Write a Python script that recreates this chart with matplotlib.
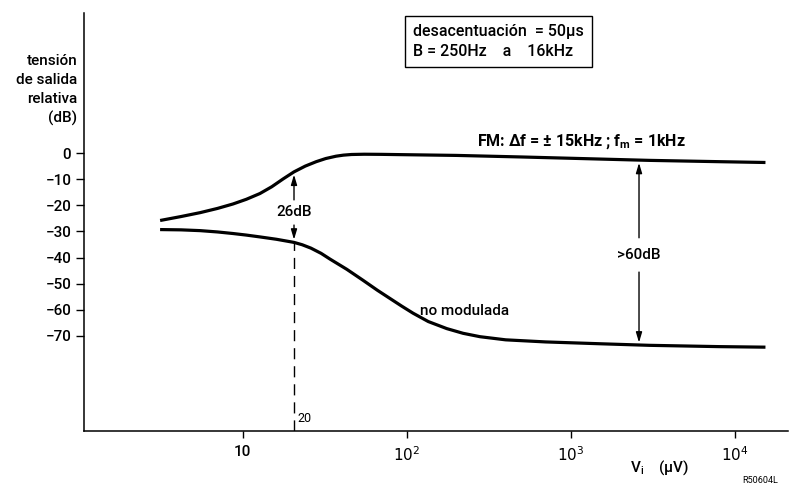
import numpy as np
import matplotlib
matplotlib.use("Agg")
import matplotlib.pyplot as plt

plt.rcParams["font.family"] = ["Roboto", "DejaVu Sans"]

# curve readings (input voltage in uV, relative output in dB)
fm_uv = [3.2, 4.2, 5.5, 7, 8.7, 10.5, 12.7, 15, 17.6, 20.5, 24, 28, 32, 37, 41, 46,
         55, 70, 90, 200, 500, 1000, 3000, 8000, 15000]
fm_db = [-25.7, -24.3, -22.8, -21.2, -19.5, -17.7, -15.5, -12.9, -9.9, -7.2, -5.0,
         -3.3, -2.1, -1.2, -0.8, -0.55, -0.45, -0.5, -0.6, -0.9, -1.5, -2.0, -2.8,
         -3.3, -3.6]

nomod_uv = [3.2, 4.2, 5.5, 7, 8.7, 10.5, 12.7, 16, 20.5, 23, 26, 30, 34, 43, 54, 66,
            79, 93, 109, 135, 175, 220, 279, 400, 700, 1500, 3000, 8000, 15000]
nomod_db = [-29.3, -29.4, -29.7, -30.2, -30.8, -31.4, -32.1, -33.0, -34.2, -35.1,
            -36.4, -38.4, -40.6, -44.5, -48.7, -52.5, -55.7, -58.6, -61.3, -64.5,
            -67.2, -69.0, -70.3, -71.5, -72.3, -73.0, -73.6, -74.1, -74.3]

y_ticks = [0, -10, -20, -30, -40, -50, -60, -70]
y_ticklabels = ["0", "−10", "−20", "−30", "−40", "−50", "−60", "−70"]
x_ticks = [10, 100, 1000, 10000]
x_ticklabels = ["10", "$10^2$", "$10^3$", "$10^4$"]

# annotation points
v_20 = 20.5
fm_at_20, nomod_at_20 = -7.2, -34.2
v_sep = 2600
fm_at_sep, nomod_at_sep = -2.7, -73.6

FS = 11
W = "medium"

fig = plt.figure(figsize=(7.91, 4.90), dpi=100)
ax = fig.add_axes([0.106, 0.1204, 0.89, 0.853])

ax.plot(fm_uv, fm_db, color="black", lw=2.3, solid_joinstyle="round")
ax.plot(nomod_uv, nomod_db, color="black", lw=2.3, solid_joinstyle="round")

ax.set_xscale("log")
ax.set_xlim(1.073, 21000)
ax.set_ylim(-106.4, 53.6)

ax.spines["top"].set_visible(False)
ax.spines["right"].set_visible(False)
ax.spines["left"].set_linewidth(1.1)
ax.spines["bottom"].set_linewidth(1.1)

ax.set_yticks(y_ticks)
ax.set_yticklabels(y_ticklabels, fontsize=FS, fontweight=W)
ax.set_xticks(x_ticks)
ax.set_xticklabels(x_ticklabels, fontsize=FS, fontweight=W)
ax.xaxis.set_minor_locator(matplotlib.ticker.NullLocator())
ax.tick_params(axis="y", direction="out", length=6, width=1, pad=3)
ax.tick_params(axis="x", direction="out", length=5, width=1, pad=5)

# dashed line at 20 uV
ax.plot([v_20, v_20], [-106.4, nomod_at_20], color="black", lw=1, ls=(0, (8, 5)))
ax.text(21.5, -104, "20", fontsize=9, ha="left", va="bottom")

# 26 dB arrows
arrow_kw = dict(arrowstyle="-|>,head_length=0.6,head_width=0.18", color="black", lw=1)
ax.annotate("", xy=(v_20, fm_at_20), xytext=(v_20, -19.0), arrowprops=arrow_kw)
ax.annotate("", xy=(v_20, nomod_at_20), xytext=(v_20, -26.5), arrowprops=arrow_kw)
ax.text(v_20, -22.5, "26dB", fontsize=FS, fontweight=W, ha="center", va="center")

# >60 dB arrows
ax.annotate("", xy=(v_sep, fm_at_sep), xytext=(v_sep, -33.5), arrowprops=arrow_kw)
ax.annotate("", xy=(v_sep, nomod_at_sep), xytext=(v_sep, -44.5), arrowprops=arrow_kw)
ax.text(v_sep, -39, ">60dB", fontsize=FS, fontweight=W, ha="center", va="center")

ax.text(1150, 0.6, "FM: Δf = ± 15kHz ; f$_\\mathregular{m}$ = 1kHz", fontsize=11.5,
        fontweight="bold", ha="center", va="bottom")
ax.text(120, -60.5, "no modulada", fontsize=FS, fontweight=W, ha="left", va="center")

fig.text(0.098, 0.89, "tensión\nde salida\nrelativa\n(dB)", fontsize=FS, fontweight=W,
         ha="right", va="top", linespacing=1.45)

# info box
fig.text(0.522, 0.915, "desacentuación  = 50µs\nB = 250Hz    a    16kHz", fontsize=11.5,
         fontweight=W, ha="left", va="center", linespacing=1.45,
         bbox=dict(boxstyle="square,pad=0.5", fc="white", ec="black", lw=1))

fig.text(0.797, 0.045, "V$_\\mathregular{i}$    (µV)", fontsize=FS, fontweight=W,
         ha="left", va="center")
fig.text(0.938, 0.02, "R50604L", fontsize=6.5, ha="left", va="center")

fig.savefig("out.png", dpi=100)
